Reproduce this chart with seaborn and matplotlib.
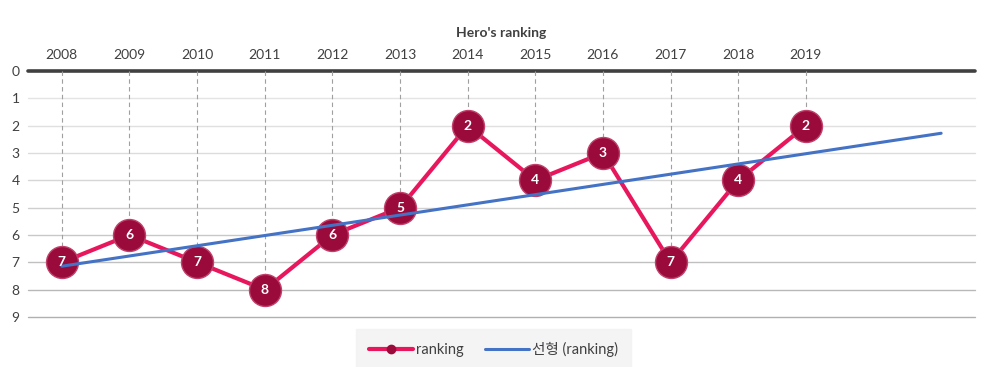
import numpy as np
import pandas as pd
import seaborn as sns
import matplotlib.pyplot as plt
from matplotlib.lines import Line2D

# data
years = [2008, 2009, 2010, 2011, 2012, 2013, 2014, 2015, 2016, 2017, 2018, 2019]
ranking = [7, 6, 7, 8, 6, 5, 2, 4, 3, 7, 4, 2]
forecast_periods = 2

PINK = '#E8175D'
MAROON = '#9A0B3C'
BLUE = '#4472C4'
DARK = '#404040'

sns.set_style('white')
plt.rcParams['font.family'] = ['Lato', 'Noto Sans CJK KR', 'DejaVu Sans']

df = pd.DataFrame({'pos': np.arange(len(years)), 'ranking': ranking})

fig = plt.figure(figsize=(9.87, 3.67), dpi=100)
ax = fig.add_axes([0.0284, 0.1362, 0.9594, 0.6703])

# gridlines, darker toward the bottom
grid_cols = ['#E4E4E4', '#E0E0E0', '#DCDCDC', '#D6D6D6', '#CFCFCF',
             '#C8C8C8', '#C0C0C0', '#B8B8B8', '#B0B0B0']
for v, c in zip(range(1, 10), grid_cols):
    ax.axhline(v, color=c, lw=1, zorder=0, clip_on=False)
ax.axhline(0, color=DARK, lw=2.6, zorder=1, clip_on=False)

# drop lines
ax.vlines(df['pos'], 0, df['ranking'], colors='#A0A0A0', linestyles=(0, (4, 3)),
          lw=0.8, zorder=1)

# linear trend, forecast forward
coef = np.polyfit(df['pos'], df['ranking'], 1)
tx = np.array([0, len(years) - 1 + forecast_periods])
ax.plot(tx, np.polyval(coef, tx), color=BLUE, lw=2.2, zorder=3)

sns.lineplot(data=df, x='pos', y='ranking', ax=ax, color=PINK, lw=3,
             marker='o', markersize=23, markerfacecolor=MAROON,
             markeredgecolor='#C0406A', markeredgewidth=1, zorder=2)

for x, y in zip(df['pos'], df['ranking']):
    ax.text(x, y, str(y), ha='center', va='center', color='white',
            fontsize=10, fontweight='bold', zorder=5)

ax.set_xlim(-0.5, len(years) - 1 + forecast_periods + 0.5)
ax.set_ylim(9, 0)
ax.set_yticks(range(10))
ax.set_yticklabels([str(i) for i in range(10)], fontsize=10, color=DARK)
ax.xaxis.tick_top()
ax.xaxis.set_label_position('top')
ax.set_xticks(range(len(years)))
ax.set_xticklabels([str(y) for y in years], fontsize=10, color=DARK)
ax.tick_params(length=0, pad=7)
ax.tick_params(axis='y', pad=6)
ax.set_xlabel("Hero's ranking", fontsize=10, fontweight='bold', color=DARK, labelpad=9)
ax.set_ylabel('')
for s in ax.spines.values():
    s.set_visible(False)

handles = [
    Line2D([], [], color=PINK, lw=3, marker='o', markersize=6,
           markerfacecolor=MAROON, markeredgecolor=MAROON),
    Line2D([], [], color=BLUE, lw=2.2),
]
leg = fig.legend(handles, ['ranking', '선형 (ranking)'], loc='center',
                 bbox_to_anchor=(0.5, 0.047), ncol=2, frameon=True,
                 fontsize=10.5, handlelength=3, columnspacing=1.5,
                 handletextpad=0.2, borderpad=0.6)
leg.get_frame().set_facecolor('#F2F2F2')
leg.get_frame().set_edgecolor('#F2F2F2')
leg.get_frame().set_boxstyle('square')
for t in leg.get_texts():
    t.set_color(DARK)

fig.savefig('out.png', dpi=100)
